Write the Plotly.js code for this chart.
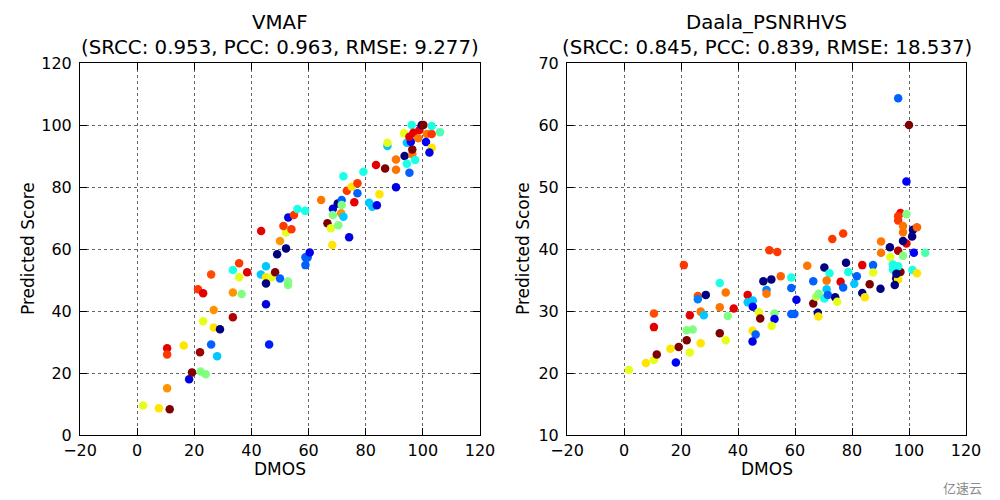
<!DOCTYPE html>
<html>
<head>
<meta charset="utf-8">
<script src="https://cdn.plot.ly/plotly-3.0.1.min.js"></script>
<style>html,body{margin:0;padding:0;background:#fff;}#chart{width:1000px;height:500px;}</style>
</head>
<body>
<div id="chart"></div>
<script>
// Colour index: position on the jet colormap (0 = navy ... 1 = maroon)
const vmafDmos = [2.1,7.6,11.4,10.5,10.5,10.5,16.3,18.2,19.2,22.2,24.0,22.0,25.9,28.0,23.1,26.8,26.8,29.0,33.5,21.3,23.1,25.9,33.5,36.6,33.5,35.7,35.7,38.5,43.3,45.1,45.1,47.0,45.1,45.1,46.2,48.3,50.0,49.0,52.1,52.8,52.8,58.9,59.7,58.9,60.4,50.0,68.3,74.2,43.4,52.1,51.2,54.0,52.9,54.9,56.1,58.8,64.4,66.6,67.8,70.4,68.5,70.2,71.6,71.6,68.5,71.4,72.2,72.2,73.4,75.1,77.1,77.1,76.0,79.2,81.2,82.3,83.9,84.8,83.6,86.8,87.6,87.6,90.6,90.6,90.6,93.6,94.4,95.3,96.3,97.3,96.3,94.4,95.8,93.4,96.1,95.3,96.7,98.8,99.6,100.2,98.4,101.4,103.1,103.1,106.0,101.1,103.1,102.3];
const vmafScore = [9.5,8.6,8.3,15.1,28.0,26.0,28.9,18.0,20.2,20.5,19.6,26.7,29.2,25.4,36.7,40.3,34.7,34.1,38.0,47.0,45.7,51.8,46.0,45.5,53.2,55.4,50.9,52.5,51.8,54.4,50.9,50.9,48.9,42.2,29.2,52.5,50.5,58.3,60.2,49.5,48.4,57.3,57.3,54.8,58.9,62.6,61.3,63.8,65.8,65.3,67.4,66.4,70.2,71.0,72.9,72.3,75.8,68.3,66.7,67.7,73.0,74.7,75.8,74.2,71.0,71.5,70.4,83.5,78.8,80.1,81.2,78.0,75.1,84.9,74.9,73.6,74.1,77.7,87.1,86.0,93.2,94.3,88.9,85.6,79.9,90.0,87.5,84.6,90.6,88.7,92.1,94.3,94.6,97.3,100.0,96.2,97.5,98.4,100.0,100.0,95.7,97.1,97.1,99.7,97.7,94.5,92.7,91.1];
const vmafColor = [0.6,0.65,1.0,0.73,0.9,0.82,0.65,0.1,1.0,0.5,0.5,0.97,0.22,0.32,0.6,0.73,0.65,0.0,0.95,0.82,0.9,0.8,0.73,0.5,0.4,0.82,0.6,0.9,0.32,0.32,0.65,0.6,0.0,0.1,0.15,1.0,0.22,0.0,0.0,0.5,0.5,0.22,0.22,0.22,0.1,0.73,0.65,0.1,0.9,0.6,0.82,0.82,0.1,0.82,0.4,0.4,0.76,1.0,0.6,0.5,0.1,0.0,0.22,0.5,0.5,0.73,0.32,0.4,0.82,0.65,0.82,0.22,0.9,0.4,0.32,0.32,0.1,0.65,0.9,1.0,0.32,0.6,0.76,0.76,0.1,0.0,0.4,0.22,0.76,0.4,1.0,0.32,0.12,0.6,0.4,0.9,0.9,0.9,0.0,1.0,0.76,0.76,0.82,0.4,0.45,0.12,0.65,0.1];

const daalaDmos = [1.7,7.7,10.5,11.5,18.2,16.3,19.2,22.0,23.1,22.0,24.1,10.5,10.5,21.0,23.1,25.9,25.9,28.7,26.9,28.0,26.9,33.6,35.7,33.6,33.6,35.7,36.4,38.5,43.4,43.4,45.2,45.2,47.3,47.8,45.1,46.2,45.1,48.9,51.7,50.0,50.0,52.8,52.8,51.8,51.0,53.8,55.0,58.7,58.7,60.5,58.7,59.8,64.3,66.4,66.4,68.0,68.2,67.4,70.3,72.1,71.1,71.1,68.3,70.3,71.5,74.1,74.8,76.0,76.9,77.9,78.7,80.8,81.7,83.6,83.6,84.5,86.2,87.4,87.4,90.0,90.2,90.2,93.3,93.4,94.3,94.4,96.2,97.9,99.1,101.7,105.7,97.0,95.5,96.2,95.0,101.2,102.8,96.2,96.2,100.0,99.1,97.0,96.2,99.1,96.2,97.9,97.9,101.4,102.8,101.1,97.9,76.9,73.1,95.6];
const daalaScore = [20.5,21.6,22.1,23.0,21.7,23.9,24.2,25.3,23.3,26.9,27.0,27.4,29.6,37.4,29.3,32.4,31.9,32.6,29.9,29.3,24.8,34.5,33.0,30.6,26.4,25.3,29.2,30.4,32.6,31.4,31.7,30.7,29.8,28.8,26.8,26.2,25.1,34.8,35.1,33.4,32.8,29.6,28.7,27.6,39.8,39.5,35.6,35.4,33.7,31.8,29.5,29.5,37.3,34.8,31.2,29.7,29.1,32.3,37.0,36.1,34.9,33.5,32.8,32.0,32.6,32.2,31.5,34.7,33.8,37.8,36.3,34.4,35.6,37.4,32.9,32.2,34.3,37.4,36.2,33.6,39.4,41.2,40.3,38.7,37.5,36.7,39.7,38.9,40.9,39.4,39.4,36.3,35.3,35.1,34.2,36.6,36.1,37.2,64.3,60.0,50.9,45.8,45.3,45.6,44.6,43.7,42.7,43.1,43.5,42.0,41.3,42.5,41.6,36.0];
const daalaColor = [0.6,0.65,0.6,1.0,0.12,0.65,1.0,1.0,0.6,0.5,0.5,0.9,0.8,0.82,0.9,0.8,0.25,0.0,0.76,0.32,0.65,0.4,0.76,0.76,1.0,0.6,0.5,0.9,0.9,0.32,0.32,0.12,0.6,1.0,0.65,0.22,0.1,0.0,0.0,0.25,0.76,0.5,0.1,0.6,0.82,0.82,0.78,0.4,0.22,0.1,0.22,0.22,0.76,0.22,1.0,0.0,0.65,0.55,0.0,0.4,0.76,0.32,0.5,0.4,0.22,0.0,0.6,0.9,0.22,0.0,0.4,0.32,0.22,0.9,0.0,0.65,1.0,0.22,0.6,0.0,0.76,0.76,0.0,0.6,0.4,0.4,0.95,0.5,0.9,0.12,0.45,1.0,0.0,0.65,0.0,0.4,0.65,0.4,0.22,1.0,0.12,0.88,0.82,0.5,0.82,0.76,0.76,0.0,0.78,0.0,0.0,0.82,0.82,0.0];

const xTicks = [-20,0,20,40,60,80,100,120];
const vmafYTicks = [0,20,40,60,80,100,120];
const daalaYTicks = [10,20,30,40,50,60,70];

function jet(v){
  const c = t => Math.max(0, Math.min(1, t));
  const r = c(1.5 - Math.abs(4*v - 3)), g = c(1.5 - Math.abs(4*v - 2)), b = c(1.5 - Math.abs(4*v - 1));
  return 'rgb(' + Math.round(r*255) + ',' + Math.round(g*255) + ',' + Math.round(b*255) + ')';
}

const FONT = 'DejaVu Sans, Arial, sans-serif';
function axis(domain, range, ticks, anchor, standoff){
  return {
    domain: domain, range: range, anchor: anchor,
    tickmode: 'array', tickvals: ticks, ticktext: ticks.map(t => t < 0 ? '\u2212' + Math.abs(t) : String(t)),
    ticks: 'inside', ticklen: 7, tickwidth: 1, tickcolor: '#000', ticklabelstandoff: standoff,
    showline: true, linecolor: '#000', linewidth: 1, mirror: 'ticks',
    showgrid: true, gridcolor: 'rgba(0,0,0,0.6)', gridwidth: 1, griddash: 'dot',
    zeroline: false, tickfont: {family: FONT, size: 16, color: '#000'}, fixedrange: true
  };
}

const traces = [
  {x: vmafDmos, y: vmafScore, xaxis: 'x', yaxis: 'y', type: 'scatter', mode: 'markers',
   marker: {size: 8.5, color: vmafColor.map(jet), line: {width: 0}}, hoverinfo: 'skip'},
  {x: daalaDmos, y: daalaScore, xaxis: 'x2', yaxis: 'y2', type: 'scatter', mode: 'markers',
   marker: {size: 8.5, color: daalaColor.map(jet), line: {width: 0}}, hoverinfo: 'skip'}
];

const ann = (text, x, y, size, extra) => Object.assign({text: text, x: x, y: y, xref: 'paper', yref: 'paper',
  showarrow: false, xanchor: 'center', yanchor: 'middle', font: {family: FONT, size: size, color: '#000'}}, extra || {});

const layout = {
  width: 1000, height: 500, margin: {l: 0, r: 0, t: 0, b: 0},
  paper_bgcolor: '#fff', plot_bgcolor: '#fff', showlegend: false,
  xaxis: axis([0.08, 0.48], [-20, 120], xTicks, 'y', 1),
  yaxis: axis([0.13, 0.874], [0, 120], vmafYTicks, 'x', 4),
  xaxis2: axis([0.567, 0.966], [-20, 120], xTicks, 'y2', 1),
  yaxis2: axis([0.13, 0.874], [10, 70], daalaYTicks, 'x2', 4),
  annotations: [
    ann('VMAF', 0.28, 0.956, 19.8),
    ann('(SRCC: 0.953, PCC: 0.963, RMSE: 9.277)', 0.28, 0.905, 19.8),
    ann('Daala_PSNRHVS', 0.7665, 0.956, 19.8),
    ann('(SRCC: 0.845, PCC: 0.839, RMSE: 18.537)', 0.7665, 0.905, 19.8),
    ann('DMOS', 0.28, 0.063, 17),
    ann('DMOS', 0.7665, 0.063, 17),
    ann('Predicted Score', 0.028, 0.502, 17, {textangle: -90}),
    ann('Predicted Score', 0.523, 0.502, 17, {textangle: -90}),
    ann('亿速云', 0.962, 0.026, 13, {font: {family: 'Noto Sans CJK SC, sans-serif', size: 13, color: '#8a8a8a'}})
  ]
};

Plotly.newPlot('chart', traces, layout, {staticPlot: true, displayModeBar: false});
</script>
</body>
</html>
